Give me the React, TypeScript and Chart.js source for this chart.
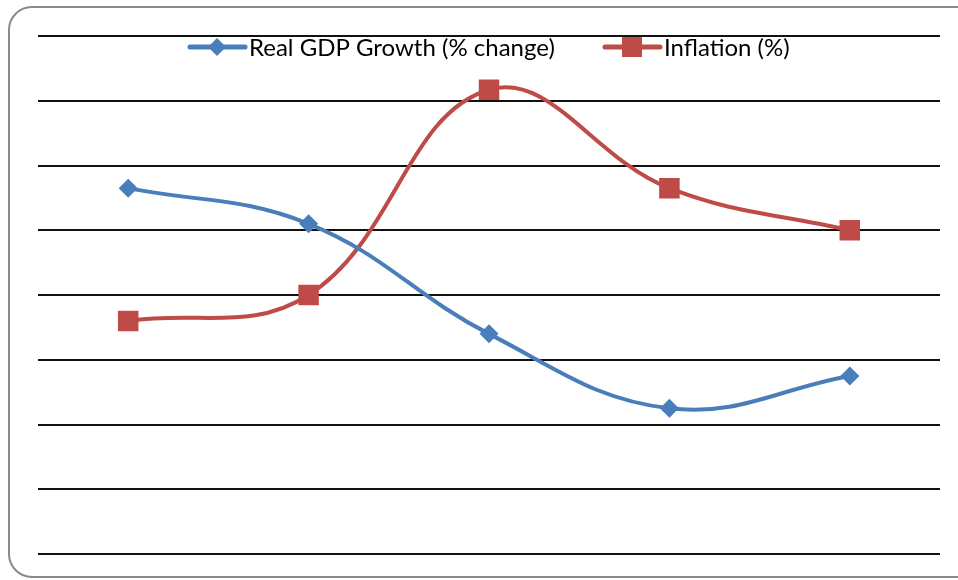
import React, { useEffect, useRef } from "react";
import { Chart, registerables } from "chart.js";

Chart.register(...registerables);

const categories = ["1", "2", "3", "4", "5"];
const gdpGrowth = [5.65, 5.1, 3.4, 2.25, 2.75];
const inflation = [3.6, 4.0, 7.17, 5.65, 5.0];
const seriesNames = ["Real GDP Growth (% change)", "Inflation (%)"];
const blue = "#4A7EBB";
const red = "#BE4B48";

const legendPlugin = {
  id: "insideLegend",
  afterDraw(chart: any) {
    const ctx = chart.ctx;
    const items = [
      { x: 190, ds: chart.data.datasets[0] },
      { x: 605, ds: chart.data.datasets[1] },
    ];
    const y = 47;
    ctx.save();
    items.forEach(({ x, ds }) => {
      ctx.strokeStyle = ds.borderColor;
      ctx.lineWidth = 5;
      ctx.lineCap = "round";
      ctx.beginPath();
      ctx.moveTo(x, y);
      ctx.lineTo(x + 55, y);
      ctx.stroke();
      ctx.fillStyle = ds.backgroundColor;
      ctx.beginPath();
      if (ds.pointStyle === "rectRot") {
        const r = 9;
        const cx = x + 27;
        ctx.moveTo(cx, y - r);
        ctx.lineTo(cx + r, y);
        ctx.lineTo(cx, y + r);
        ctx.lineTo(cx - r, y);
        ctx.closePath();
      } else {
        const s = 10;
        ctx.rect(x + 27 - s, y - s, 2 * s, 2 * s);
      }
      ctx.fill();
      ctx.fillStyle = "#000";
      ctx.font = "24px Lato, 'Open Sans', sans-serif";
      ctx.textBaseline = "middle";
      ctx.textAlign = "left";
      ctx.fillText(ds.label, x + 59, y + 1);
    });
    ctx.restore();
  },
};

export default function App() {
  const ref = useRef<HTMLCanvasElement>(null);
  useEffect(() => {
    if (!ref.current) return;
    const chart = new Chart(ref.current, {
      type: "line",
      data: {
        labels: categories,
        datasets: [
          {
            label: seriesNames[0],
            data: gdpGrowth,
            borderColor: blue,
            backgroundColor: blue,
            borderWidth: 4,
            tension: 0.4,
            pointStyle: "rectRot",
            pointRadius: 9.5,
            pointBorderWidth: 0,
            pointBackgroundColor: blue,
          },
          {
            label: seriesNames[1],
            data: inflation,
            borderColor: red,
            backgroundColor: red,
            borderWidth: 4,
            tension: 0.4,
            pointStyle: "rect",
            pointRadius: 14.5,
            pointBorderWidth: 0,
            pointBackgroundColor: red,
          },
        ],
      },
      options: {
        animation: false,
        responsive: false,
        maintainAspectRatio: false,
        layout: { padding: { left: 38, right: 18, top: 36, bottom: 26 } },
        plugins: { legend: { display: false }, tooltip: { enabled: false } },
        scales: {
          x: { display: false, offset: true },
          y: {
            min: 0,
            max: 8,
            ticks: { display: false, stepSize: 1 },
            grid: { color: "#111", lineWidth: 2, drawTicks: false },
            border: { display: false },
          },
        },
      },
      plugins: [legendPlugin],
    });
    return () => chart.destroy();
  }, []);
  return (
    <div style={{ position: "absolute", left: 0, top: 0, width: 958, height: 580, overflow: "hidden", background: "#fff" }}>
      <div
        style={{
          position: "absolute",
          left: 8,
          top: 6,
          width: 975,
          height: 572,
          border: "2px solid #8a8a8a",
          borderRadius: 24,
          boxSizing: "border-box",
        }}
      />
      <canvas ref={ref} width={958} height={580} style={{ position: "absolute", left: 0, top: 0 }} />
    </div>
  );
}
